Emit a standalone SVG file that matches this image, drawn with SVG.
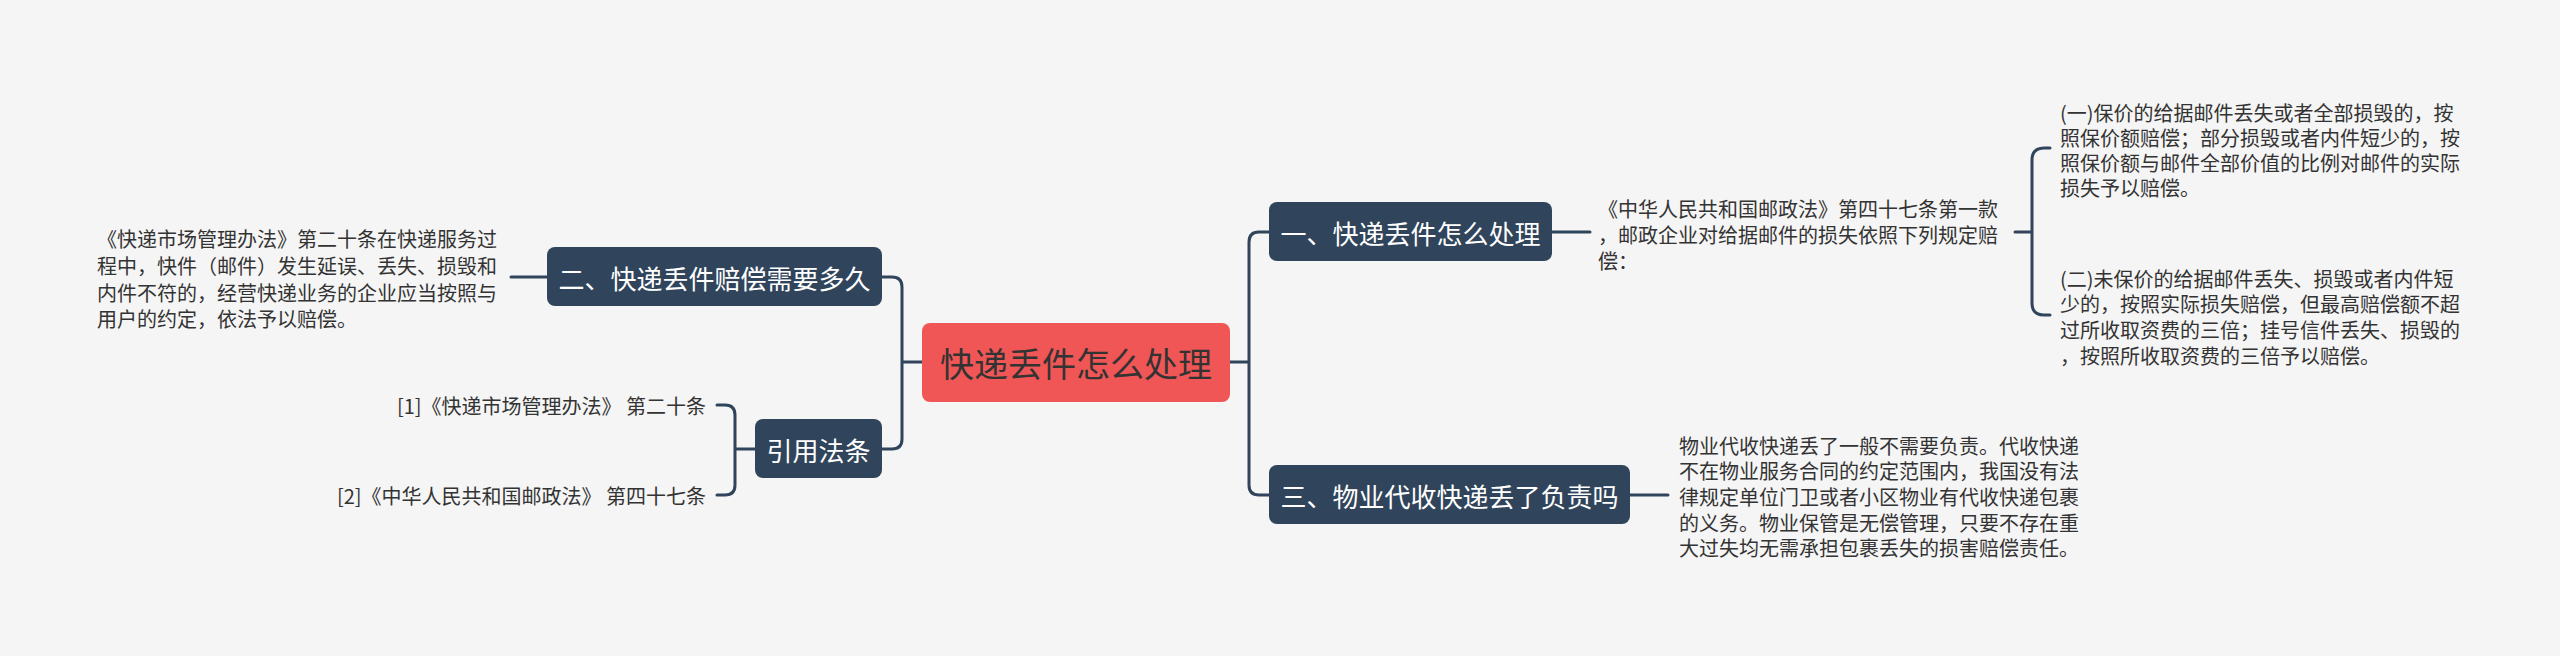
<svg xmlns="http://www.w3.org/2000/svg" width="2560" height="656" viewBox="0 0 2560 656">
<style>
text{font-family:"Noto Sans CJK SC","Noto Sans",sans-serif;dominant-baseline:central}
.node{fill:#30455b}
.nt{fill:#ffffff;font-size:26px;text-anchor:middle}
.ct{fill:#333333;font-size:34px;text-anchor:middle}
.leaf{fill:#333333;font-size:20px}
.conn{fill:none;stroke:#30455b;stroke-width:3;stroke-linecap:round}
</style>
<rect width="2560" height="656" fill="#f5f5f5"/>
<g id="connectors">
<path class="conn" d="M1230,362 H1249 M1269,232 H1259 Q1249,232 1249,242 V485 Q1249,495 1259,495 H1269"/>
<path class="conn" d="M922,362 H902 M882,277 H892 Q902,277 902,287 V439 Q902,449 892,449 H882"/>
<path class="conn" d="M547,277 H511"/>
<path class="conn" d="M755,449 H735 M717,405 H725 Q735,405 735,415 V485 Q735,495 725,495 H717"/>
<path class="conn" d="M1552,232 H1590"/>
<path class="conn" d="M2015,232 H2032 M2050,148 H2044 Q2032,148 2032,160 V303 Q2032,315 2044,315 H2050"/>
<path class="conn" d="M1630,495 H1668"/>
</g>
<g id="center">
<rect x="922" y="323" width="308" height="79" rx="8" fill="#f05656"/>
<text class="ct" x="1076" y="362">快递丢件怎么处理</text>
</g>
<g id="n1">
<rect class="node" x="1269" y="202" width="283" height="59" rx="8"/>
<text class="nt" x="1410.5" y="232">一、快递丢件怎么处理</text>
</g>
<g id="n3">
<rect class="node" x="1269" y="465" width="361" height="59" rx="8"/>
<text class="nt" x="1449.5" y="495">三、物业代收快递丢了负责吗</text>
</g>
<g id="n2">
<rect class="node" x="547" y="247" width="335" height="59" rx="8"/>
<text class="nt" x="714.5" y="277">二、快递丢件赔偿需要多久</text>
</g>
<g id="n4">
<rect class="node" x="755" y="419" width="127" height="59" rx="8"/>
<text class="nt" x="818.5" y="449">引用法条</text>
</g>
<g id="leaf-n2">
<text class="leaf" x="97" y="238">《快递市场管理办法》第二十条在快递服务过</text>
<text class="leaf" x="97" y="265">程中，快件（邮件）发生延误、丢失、损毁和</text>
<text class="leaf" x="97" y="292">内件不符的，经营快递业务的企业应当按照与</text>
<text class="leaf" x="97" y="318">用户的约定，依法予以赔偿。</text>
</g>
<g id="ref1">
<text class="leaf" x="706" y="405" text-anchor="end">[1]《快递市场管理办法》 第二十条</text>
</g>
<g id="ref2">
<text class="leaf" x="706" y="495" text-anchor="end">[2]《中华人民共和国邮政法》 第四十七条</text>
</g>
<g id="leaf-n1">
<text class="leaf" x="1598" y="208">《中华人民共和国邮政法》第四十七条第一款</text>
<text class="leaf" x="1598" y="234">，邮政企业对给据邮件的损失依照下列规定赔</text>
<text class="leaf" x="1598" y="260">偿：</text>
</g>
<g id="leaf-a">
<text class="leaf" x="2060" y="112">(一)保价的给据邮件丢失或者全部损毁的，按</text>
<text class="leaf" x="2060" y="137">照保价额赔偿；部分损毁或者内件短少的，按</text>
<text class="leaf" x="2060" y="162">照保价额与邮件全部价值的比例对邮件的实际</text>
<text class="leaf" x="2060" y="187">损失予以赔偿。</text>
</g>
<g id="leaf-b">
<text class="leaf" x="2060" y="278">(二)未保价的给据邮件丢失、损毁或者内件短</text>
<text class="leaf" x="2060" y="303">少的，按照实际损失赔偿，但最高赔偿额不超</text>
<text class="leaf" x="2060" y="329">过所收取资费的三倍；挂号信件丢失、损毁的</text>
<text class="leaf" x="2060" y="355">，按照所收取资费的三倍予以赔偿。</text>
</g>
<g id="leaf-n3">
<text class="leaf" x="1679" y="445">物业代收快递丢了一般不需要负责。代收快递</text>
<text class="leaf" x="1679" y="470">不在物业服务合同的约定范围内，我国没有法</text>
<text class="leaf" x="1679" y="496">律规定单位门卫或者小区物业有代收快递包裹</text>
<text class="leaf" x="1679" y="522">的义务。物业保管是无偿管理，只要不存在重</text>
<text class="leaf" x="1679" y="547">大过失均无需承担包裹丢失的损害赔偿责任。</text>
</g>
</svg>
